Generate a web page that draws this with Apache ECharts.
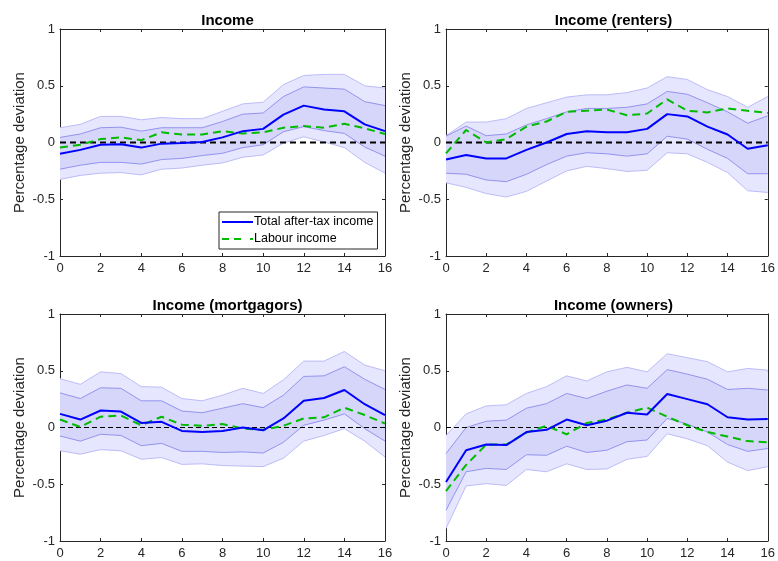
<!DOCTYPE html>
<html>
<head>
<meta charset="utf-8">
<title>Income responses</title>
<script src="https://cdn.jsdelivr.net/npm/echarts@6/dist/echarts.min.js"></script>
<style>
  html, body { margin: 0; padding: 0; background: #ffffff; }
  #chart { width: 778px; height: 561px; }
</style>
</head>
<body>
<div id="chart"></div>
<script>
// Horizon (quarters after the shock)
const periods = ['0', '1', '2', '3', '4', '5', '6', '7', '8', '9', '10', '11', '12', '13', '14', '15', '16'];
const yTicks = [-1, -0.5, 0, 0.5, 1];
const titles = ['Income', 'Income (renters)', 'Income (mortgagors)', 'Income (owners)'];
const legendNames = ['Total after-tax income', 'Labour income'];

// All households
const allTotal   = [-0.10, -0.065, -0.02, -0.015, -0.045, -0.01, -0.005, 0.005, 0.045, 0.10, 0.12, 0.245, 0.325, 0.29, 0.275, 0.16, 0.10];
const allLabour  = [-0.045, -0.02, 0.03, 0.045, 0.02, 0.09, 0.07, 0.07, 0.10, 0.08, 0.09, 0.13, 0.145, 0.13, 0.165, 0.125, 0.075];
const allInnerLo = [-0.235, -0.20, -0.175, -0.175, -0.19, -0.15, -0.14, -0.115, -0.095, -0.045, -0.02, 0.095, 0.14, 0.105, 0.08, -0.04, -0.12];
const allInnerHi = [0.045, 0.075, 0.13, 0.135, 0.10, 0.13, 0.13, 0.13, 0.185, 0.25, 0.26, 0.405, 0.49, 0.48, 0.47, 0.36, 0.325];
const allOuterLo = [-0.325, -0.29, -0.27, -0.265, -0.285, -0.235, -0.225, -0.20, -0.18, -0.13, -0.11, -0.005, 0.05, 0.005, -0.045, -0.175, -0.27];
const allOuterHi = [0.13, 0.16, 0.23, 0.23, 0.20, 0.22, 0.21, 0.21, 0.275, 0.34, 0.355, 0.51, 0.59, 0.60, 0.60, 0.50, 0.48];

// Renters
const rentTotal   = [-0.15, -0.11, -0.14, -0.14, -0.065, 0.0, 0.075, 0.10, 0.09, 0.09, 0.12, 0.25, 0.23, 0.14, 0.07, -0.055, -0.025];
const rentLabour  = [-0.095, 0.11, 0.0, 0.03, 0.14, 0.185, 0.27, 0.28, 0.29, 0.24, 0.255, 0.38, 0.28, 0.265, 0.30, 0.28, 0.26];
const rentInnerLo = [-0.27, -0.28, -0.33, -0.345, -0.28, -0.195, -0.12, -0.09, -0.10, -0.12, -0.10, 0.055, 0.03, -0.06, -0.14, -0.275, -0.275];
const rentInnerHi = [0.055, 0.145, 0.06, 0.075, 0.155, 0.21, 0.27, 0.30, 0.30, 0.31, 0.34, 0.45, 0.425, 0.35, 0.27, 0.17, 0.235];
const rentOuterLo = [-0.355, -0.395, -0.45, -0.48, -0.43, -0.34, -0.25, -0.21, -0.23, -0.255, -0.245, -0.09, -0.10, -0.175, -0.265, -0.425, -0.44];
const rentOuterHi = [0.06, 0.18, 0.18, 0.21, 0.30, 0.35, 0.40, 0.42, 0.42, 0.44, 0.48, 0.58, 0.555, 0.465, 0.405, 0.31, 0.405];

// Mortgagors
const mortTotal   = [0.12, 0.07, 0.15, 0.14, 0.04, 0.05, -0.03, -0.04, -0.03, 0.0, -0.025, 0.08, 0.235, 0.26, 0.33, 0.205, 0.11];
const mortLabour  = [0.07, 0.005, 0.095, 0.105, 0.02, 0.095, 0.025, 0.015, 0.03, -0.01, -0.02, 0.015, 0.08, 0.09, 0.175, 0.11, 0.035];
const mortInnerLo = [-0.075, -0.12, -0.06, -0.07, -0.16, -0.14, -0.21, -0.21, -0.22, -0.215, -0.225, -0.13, 0.02, 0.065, 0.12, -0.01, -0.12];
const mortInnerHi = [0.305, 0.255, 0.35, 0.345, 0.235, 0.235, 0.145, 0.13, 0.17, 0.21, 0.175, 0.285, 0.45, 0.455, 0.535, 0.425, 0.335];
const mortOuterLo = [-0.205, -0.235, -0.195, -0.205, -0.28, -0.265, -0.325, -0.32, -0.335, -0.34, -0.345, -0.27, -0.12, -0.07, -0.01, -0.12, -0.26];
const mortOuterHi = [0.43, 0.38, 0.49, 0.475, 0.36, 0.355, 0.255, 0.235, 0.285, 0.345, 0.30, 0.42, 0.585, 0.585, 0.67, 0.55, 0.50];

// Outright owners
const ownTotal   = [-0.48, -0.20, -0.15, -0.155, -0.04, -0.02, 0.07, 0.02, 0.06, 0.13, 0.115, 0.295, 0.25, 0.205, 0.09, 0.07, 0.075];
const ownLabour  = [-0.56, -0.33, -0.15, -0.15, -0.045, 0.015, -0.06, 0.04, 0.07, 0.13, 0.175, 0.095, 0.02, -0.04, -0.08, -0.12, -0.13];
const ownInnerLo = [-0.73, -0.39, -0.36, -0.37, -0.24, -0.245, -0.165, -0.22, -0.20, -0.125, -0.11, 0.08, 0.03, -0.04, -0.15, -0.21, -0.185];
const ownInnerHi = [-0.23, 0.0, 0.055, 0.065, 0.17, 0.21, 0.30, 0.255, 0.32, 0.375, 0.345, 0.51, 0.47, 0.425, 0.335, 0.345, 0.33];
const ownOuterLo = [-0.89, -0.515, -0.495, -0.51, -0.37, -0.39, -0.32, -0.37, -0.365, -0.28, -0.255, -0.055, -0.10, -0.16, -0.305, -0.38, -0.345];
const ownOuterHi = [-0.07, 0.12, 0.19, 0.20, 0.30, 0.36, 0.455, 0.41, 0.49, 0.53, 0.49, 0.65, 0.615, 0.58, 0.49, 0.52, 0.505];

const panels = [
  { total: allTotal,  labour: allLabour,  innerLo: allInnerLo,  innerHi: allInnerHi,  outerLo: allOuterLo,  outerHi: allOuterHi },
  { total: rentTotal, labour: rentLabour, innerLo: rentInnerLo, innerHi: rentInnerHi, outerLo: rentOuterLo, outerHi: rentOuterHi },
  { total: mortTotal, labour: mortLabour, innerLo: mortInnerLo, innerHi: mortInnerHi, outerLo: mortOuterLo, outerHi: mortOuterHi },
  { total: ownTotal,  labour: ownLabour,  innerLo: ownInnerLo,  innerHi: ownInnerHi,  outerLo: ownOuterLo,  outerHi: ownOuterHi }
];

const FONT = 'Liberation Sans, Arial, Helvetica, sans-serif';
const AXIS_COLOR = '#262626';
const OUTER_FILL = '#e6e6fe';
const OUTER_EDGE = '#bcbcf8';
const INNER_FILL = '#d6d6fa';
const INNER_EDGE = '#9393ef';
const BLUE = '#0000ff';
const GREEN = '#00bb00';

const grids = [
  { left: 60,  top: 29,  width: 325, height: 227 },
  { left: 446, top: 29,  width: 325, height: 227 },
  { left: 60,  top: 314, width: 325, height: 227 },
  { left: 446, top: 314, width: 325, height: 227 }
];

// band width above the lower edge, stacked on top of it
const diff = (hi, lo) => hi.map((v, i) => +(v - lo[i]).toFixed(4));

const xAxes = [];
const yAxes = [];
const series = [];
const titleList = [];

grids.forEach((g, k) => {
  titleList.push({
    text: titles[k],
    left: g.left + g.width / 2,
    top: g.top - 21,
    textAlign: 'center',
    textStyle: { fontFamily: FONT, fontSize: 15, fontWeight: 'bold', color: '#000' }
  });

  const axisLine = { show: true, onZero: false, lineStyle: { color: AXIS_COLOR, width: 1 } };
  const xTick = { show: true, inside: true, length: 3, interval: 1, lineStyle: { color: AXIS_COLOR, width: 1 } };
  const yTick = { show: true, inside: true, length: 3, lineStyle: { color: AXIS_COLOR, width: 1 } };

  // bottom and top x axes
  xAxes.push({
    type: 'category', gridIndex: k, data: periods, boundaryGap: false, position: 'bottom',
    axisLine, axisTick: xTick, splitLine: { show: false },
    axisLabel: { interval: 1, color: AXIS_COLOR, fontFamily: FONT, fontSize: 13, margin: 6 }
  });
  xAxes.push({
    type: 'category', gridIndex: k, data: periods, boundaryGap: false, position: 'top',
    axisLine, axisTick: xTick, splitLine: { show: false }, axisLabel: { show: false }
  });
  // left and right y axes
  yAxes.push({
    type: 'value', gridIndex: k, min: yTicks[0], max: yTicks[yTicks.length - 1], interval: 0.5, position: 'left',
    axisLine, axisTick: yTick, splitLine: { show: false },
    axisLabel: { color: AXIS_COLOR, fontFamily: FONT, fontSize: 13, margin: 5 },
    name: 'Percentage deviation', nameLocation: 'middle', nameGap: 33,
    nameTextStyle: { color: AXIS_COLOR, fontFamily: FONT, fontSize: 15 }
  });
  yAxes.push({
    type: 'value', gridIndex: k, min: yTicks[0], max: yTicks[yTicks.length - 1], interval: 0.5, position: 'right',
    axisLine, axisTick: yTick, splitLine: { show: false }, axisLabel: { show: false }
  });

  const p = panels[k];
  const common = { xAxisIndex: 2 * k, yAxisIndex: 2 * k, showSymbol: false, symbol: 'none', silent: true, animation: false };

  // outer confidence band
  series.push(Object.assign({}, common, {
    type: 'line', name: 'outer-lo-' + k, stack: 'outer' + k, stackStrategy: 'all',
    data: p.outerLo, lineStyle: { color: OUTER_EDGE, width: 1 }, z: 1
  }));
  series.push(Object.assign({}, common, {
    type: 'line', name: 'outer-hi-' + k, stack: 'outer' + k, stackStrategy: 'all',
    data: diff(p.outerHi, p.outerLo), lineStyle: { color: OUTER_EDGE, width: 1 },
    areaStyle: { color: OUTER_FILL, opacity: 1 }, z: 1
  }));
  // inner confidence band
  series.push(Object.assign({}, common, {
    type: 'line', name: 'inner-lo-' + k, stack: 'inner' + k, stackStrategy: 'all',
    data: p.innerLo, lineStyle: { color: INNER_EDGE, width: 1 }, z: 2
  }));
  series.push(Object.assign({}, common, {
    type: 'line', name: 'inner-hi-' + k, stack: 'inner' + k, stackStrategy: 'all',
    data: diff(p.innerHi, p.innerLo), lineStyle: { color: INNER_EDGE, width: 1 },
    areaStyle: { color: INNER_FILL, opacity: 1 }, z: 2
  }));
  // zero reference line
  series.push(Object.assign({}, common, {
    type: 'line', name: 'zero-' + k,
    data: periods.map(() => 0),
    lineStyle: { color: '#000', width: k < 2 ? 2 : 1.2, type: k < 2 ? [6, 4] : [5, 3] }, z: 3
  }));
  // labour income
  series.push(Object.assign({}, common, {
    type: 'line', name: legendNames[1], data: p.labour,
    lineStyle: { color: GREEN, width: 2, type: [8, 5] }, itemStyle: { color: GREEN }, z: 4
  }));
  // total after-tax income
  series.push(Object.assign({}, common, {
    type: 'line', name: legendNames[0], data: p.total,
    lineStyle: { color: BLUE, width: 2 }, itemStyle: { color: BLUE }, z: 5
  }));
});

const chart = echarts.init(document.getElementById('chart'), null, { renderer: 'canvas' });
chart.setOption({
  animation: false,
  backgroundColor: '#ffffff',
  title: titleList,
  grid: grids,
  xAxis: xAxes,
  yAxis: yAxes,
  legend: {
    data: [
      { name: legendNames[0], icon: 'path://M0,0H31V2H0Z' },
      { name: legendNames[1], icon: 'path://M0,0H7V2H0Z M12,0H19V2H12Z M28,0H31V2H28Z' }
    ],
    orient: 'vertical',
    left: 219, top: 212,
    itemWidth: 31, itemHeight: 2, itemGap: 3,
    padding: [3, 4, 3, 3],
    borderColor: AXIS_COLOR, borderWidth: 1, backgroundColor: '#ffffff',
    selectedMode: false,
    textStyle: { fontFamily: FONT, fontSize: 12.5, color: '#000', padding: [0, 0, 0, -4], lineHeight: 14 }
  },
  series
});
</script>
</body>
</html>
